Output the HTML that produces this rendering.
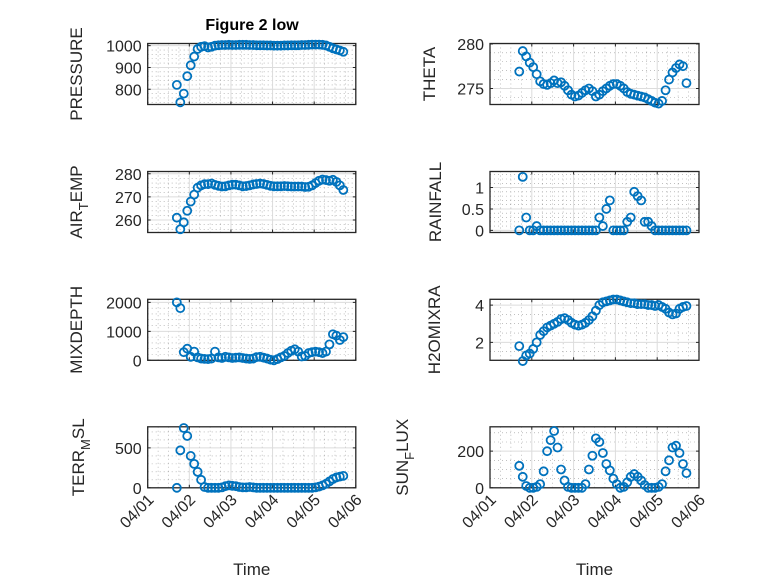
<!DOCTYPE html>
<html><head><meta charset="utf-8"><style>
html,body{margin:0;padding:0;background:#fff;}
svg{display:block;font-family:"Liberation Sans",sans-serif;}
</style></head><body>
<svg id="fig" width="778" height="583" viewBox="0 0 778 583" xmlns="http://www.w3.org/2000/svg">
<rect x="0" y="0" width="778" height="583" fill="#fff"/>
<text x="252" y="30" text-anchor="middle" font-size="16" font-weight="bold" fill="#000">Figure 2 low</text>
</svg>
<script>
// time axis: sample index k -> days after 04/01 00:00
const tStart = 0.70;
const tStepDays = 1/12;
const xTickLabels = ["04/01","04/02","04/03","04/04","04/05","04/06"];

const pressure = [820,740,780,860,910,950,985,995,998,992,995,1000,1002,1003,1003,1004,1003,1003,1004,1004,1004,1003,1003,1002,1002,1002,1001,1001,1000,1000,1000,1001,1001,1002,1002,1002,1003,1003,1004,1005,1005,1005,1004,1001,995,988,983,978,972];
const airTemp = [261,256,259,264,268,271,274,275,275.5,275.5,275.8,275.2,274.8,274.5,274.6,275,275.3,275.3,275,274.6,274.7,275,275.4,275.6,275.8,275.6,275.2,274.8,274.6,274.6,274.6,274.7,274.6,274.5,274.5,274.5,274.5,274.3,274.4,275,276,277,277.5,277.3,277,277.4,276.5,275,273];
const mixDepth = [2000,1800,280,400,120,300,100,60,50,40,60,300,100,80,120,100,80,90,100,80,60,50,60,110,120,90,60,20,0,40,100,150,250,330,380,300,130,150,250,280,300,280,250,300,550,900,850,700,800];
const terrMsl = [0,470,750,650,400,300,200,100,10,0,0,0,0,5,20,30,25,20,10,5,5,10,5,0,0,0,0,0,0,0,0,0,0,0,0,0,0,0,0,0,5,15,30,50,80,110,130,140,150];
const theta = [276.9,279.2,278.6,277.9,277.4,276.6,275.8,275.5,275.4,275.6,275.9,275.6,275.7,275.3,274.8,274.3,274.1,274.2,274.5,274.8,275.0,274.7,274.1,274.3,274.7,275.0,275.3,275.5,275.5,275.3,275.0,274.6,274.4,274.3,274.2,274.1,274.0,273.8,273.6,273.4,273.3,273.6,274.8,276.0,276.8,277.3,277.7,277.5,275.6];
const rainfall = [0,1.25,0.3,0,0,0.1,0,0,0,0,0,0,0,0,0,0,0,0,0,0,0,0,0,0.3,0.1,0.5,0.7,0,0,0,0,0.2,0.3,0.9,0.8,0.7,0.2,0.2,0.1,0,0,0,0,0,0,0,0,0,0];
const h2oMixra = [1.8,1.0,1.3,1.4,1.65,2.0,2.4,2.6,2.8,2.9,3.0,3.1,3.25,3.3,3.2,3.05,2.95,2.9,2.95,3.05,3.2,3.4,3.7,4.0,4.15,4.2,4.25,4.3,4.3,4.25,4.2,4.15,4.1,4.1,4.05,4.05,4.05,4.0,4.0,3.95,4.0,3.9,3.8,3.6,3.5,3.55,3.8,3.9,3.95];
const sunFlux = [120,60,10,0,0,5,20,90,200,260,310,220,100,40,5,0,0,0,0,20,100,175,270,250,190,130,95,50,20,0,5,30,60,75,60,40,15,0,0,0,5,20,90,150,220,230,190,130,80];

const pressureTicks = [800,900,1000];
const airTempTicks = [260,270,280];
const mixDepthTicks = [0,1000,2000];
const terrMslTicks = [0,500];
const thetaTicks = [275,280];
const rainfallTicks = [0,0.5,1];
const h2oTicks = [2,4];
const sunTicks = [0,200];

const NS="http://www.w3.org/2000/svg";
const svg=document.getElementById('fig');
function mk(tag,attrs,parent){const e=document.createElementNS(NS,tag);for(const k in attrs)e.setAttribute(k,attrs[k]);(parent||svg).appendChild(e);return e;}

const colL={x0:147.7,x1:355.8}, colR={x0:490,x1:699};
const rows=[43.5,171.5,299.3,426.8], H=61;
const panels=[
 {name:'pressure',col:colL,row:0,data:pressure,ymin:730,ymax:1010,ticks:pressureTicks,minor:20,label:['PRESSURE'],lx:82},
 {name:'air-temp',col:colL,row:1,data:airTemp,ymin:254.6,ymax:281,ticks:airTempTicks,minor:2,label:['AIR','T','EMP'],lx:82},
 {name:'mixdepth',col:colL,row:2,data:mixDepth,ymin:0,ymax:2105,ticks:mixDepthTicks,minor:200,label:['MIXDEPTH'],lx:82},
 {name:'terr-msl',col:colL,row:3,data:terrMsl,ymin:0,ymax:765,ticks:terrMslTicks,minor:100,label:['TERR','M','SL'],lx:84,bottom:true},
 {name:'theta',col:colR,row:0,data:theta,ymin:273.2,ymax:280.05,ticks:thetaTicks,minor:1,label:['THETA'],lx:435},
 {name:'rainfall',col:colR,row:1,data:rainfall,ymin:-0.05,ymax:1.375,ticks:rainfallTicks,minor:0.1,label:['RAINFALL'],lx:441},
 {name:'h2omixra',col:colR,row:2,data:h2oMixra,ymin:1.04,ymax:4.31,ticks:h2oTicks,minor:0.5,label:['H2OMIXRA'],lx:440},
 {name:'sun-flux',col:colR,row:3,data:sunFlux,ymin:0,ymax:333,ticks:sunTicks,minor:50,label:['SUN','F','LUX'],lx:408,bottom:true},
];

panels.forEach(p=>{
 const x0=p.col.x0,x1=p.col.x1,y0=rows[p.row],y1=y0+H;
 const xs=d=>x0+(d-0)/5*(x1-x0);
 const ys=v=>y1-(v-p.ymin)/(p.ymax-p.ymin)*(y1-y0);
 const g=mk('g',{});
 
 
 for(let d=0;d<=5;d+=0.25){ if(Math.abs(d-Math.round(d))<1e-6)continue;
  const x=xs(d); const l=mk('line',{x1:x,x2:x,y1:y0,y2:y1,stroke:'#9a9a9a','stroke-width':0.6,'stroke-dasharray':'1,3'},g);
  }
 const start=Math.ceil(p.ymin/p.minor)*p.minor;
 for(let v=start;v<=p.ymax+1e-9;v+=p.minor){ if(p.ticks.some(t=>Math.abs(t-v)<1e-6))continue;
  const y=ys(v); const l=mk('line',{x1:x0,x2:x1,y1:y,y2:y,stroke:'#9a9a9a','stroke-width':0.6,'stroke-dasharray':'1,3'},g);
  }
 for(let d=1;d<5;d++){const x=xs(d);const l=mk('line',{x1:x,x2:x,y1:y0,y2:y1,stroke:'#dcdcdc','stroke-width':1},g);
  }
 p.ticks.forEach(t=>{const y=ys(t);const l=mk('line',{x1:x0,x2:x1,y1:y,y2:y,stroke:'#dcdcdc','stroke-width':1},g);
  
  const tk=mk('path',{d:`M${x0},${y}h3M${x1},${y}h-3`,stroke:'#262626','stroke-width':1},g);
  
  const tx=mk('text',{x:x0-6,y:y+6,'text-anchor':'end','font-size':16,fill:'#262626'},g);
  tx.textContent=String(t);
  });
 for(let d=0;d<=5;d++){const x=xs(d);
  const tk=mk('path',{d:`M${x},${y1}v-3M${x},${y0}v3`,stroke:'#262626','stroke-width':1},g);
  
  if(p.bottom){const tx=mk('text',{x:0,y:0,'text-anchor':'end','font-size':16,fill:'#262626',transform:`translate(${x+7},${y1+13}) rotate(-45)`},g);
   tx.textContent=xTickLabels[d];
   }}
 const box=mk('rect',{x:x0,y:y0,width:x1-x0,height:H,fill:'none',stroke:'#262626','stroke-width':1.3},g);
 
 p.data.forEach((v,k)=>{const d=tStart+k*tStepDays;
  const c=mk('circle',{cx:xs(d),cy:ys(v),r:4,fill:'none',stroke:'#0072BD','stroke-width':1.8},g);
  
  });
 const cy=(y0+y1)/2;
 const lb=mk('text',{x:0,y:0,'text-anchor':'middle','font-size':17,fill:'#262626',transform:`translate(${p.lx},${cy}) rotate(-90)`},g);
 
 
 if(p.label.length===1){lb.textContent=p.label[0];}
 else{const a=mk('tspan',{},lb);a.textContent=p.label[0];
  const b=mk('tspan',{dy:6,'font-size':13},lb);b.textContent=p.label[1];
  const c=mk('tspan',{dy:-6},lb);c.textContent=p.label[2];}
 if(p.bottom){const tl=mk('text',{x:(x0+x1)/2,y:575,'text-anchor':'middle','font-size':17,fill:'#262626'},g);
  tl.textContent='Time';
  }
});
</script>
</body></html>
